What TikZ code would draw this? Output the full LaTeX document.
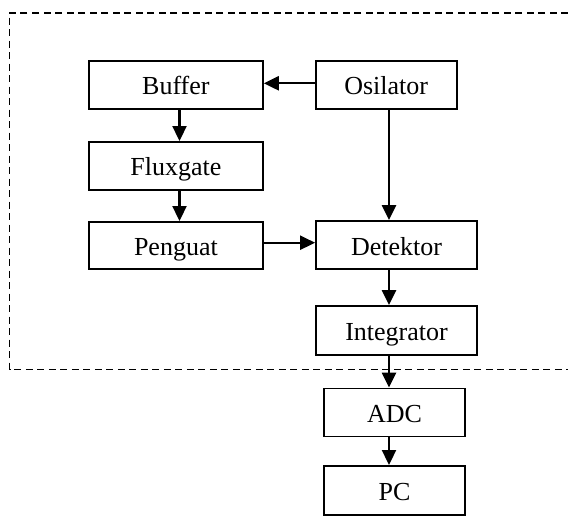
\documentclass[tikz,border=0pt]{standalone}
\usepackage{fontspec}
\setmainfont{Liberation Serif}
\usetikzlibrary{arrows.meta}
\begin{document}
\begin{tikzpicture}[x=1pt,y=-1pt,
  box/.style={draw,line width=1.8pt,inner sep=0pt,text height=20pt,text depth=0pt,font=\fontsize{26}{30}\selectfont},
  arr/.style={line width=2.3pt,-{Triangle[length=15pt,width=14pt]}},
  frame/.style={line width=1.6pt,dash pattern=on 7pt off 4.5pt}]
\useasboundingbox (0,0) rectangle (568,517);
\draw[frame] (568,12.7) -- (9.5,12.7) -- (9.5,369.3) -- (568,369.3);
\node[box,minimum width=174pt,minimum height=48pt] (buf) at (175.9,84.9) {Buffer};
\node[box,minimum width=141pt,minimum height=48pt] (osc) at (386.2,84.9) {Osilator};
\node[box,minimum width=174pt,minimum height=48pt] (flux) at (175.9,165.9) {Fluxgate};
\node[box,minimum width=174pt,minimum height=47pt] (amp) at (175.9,245.4) {Penguat};
\node[box,minimum width=161pt,minimum height=48pt] (det) at (396.5,245) {Detektor};
\node[box,minimum width=161pt,minimum height=49pt] (int) at (396.5,330.5) {Integrator};
\node[box,minimum width=141pt,minimum height=48pt] (adc) at (394.5,412.5) {ADC};
\node[box,minimum width=141pt,minimum height=49pt] (pc) at (394.5,490.4) {PC};
\coordinate (vl) at (179.5,0);
\coordinate (vr) at (389,0);
\coordinate (hl) at (0,83.3);
\coordinate (hp) at (0,242.7);
\draw[arr] (osc.west |- hl) -- (buf.east |- hl);
\draw[arr] (buf.south -| vl) -- (flux.north -| vl);
\draw[arr] (flux.south -| vl) -- (amp.north -| vl);
\draw[arr] (amp.east |- hp) -- (det.west |- hp);
\draw[arr] (osc.south -| vr) -- (det.north -| vr);
\draw[arr] (det.south -| vr) -- (int.north -| vr);
\draw[arr] (int.south -| vr) -- (adc.north -| vr);
\draw[arr] (adc.south -| vr) -- (pc.north -| vr);
\end{tikzpicture}
\end{document}
